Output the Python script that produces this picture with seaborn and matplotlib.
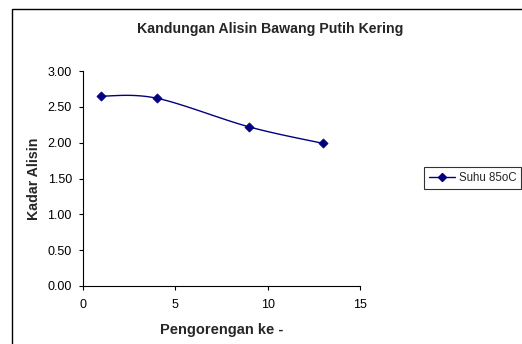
import numpy as np
import pandas as pd
import matplotlib
matplotlib.use("Agg")
import matplotlib.pyplot as plt
from matplotlib.patches import Rectangle
import seaborn as sns

# Data
pengorengan = [1, 4, 9, 13]
kadar_alisin = [2.65, 2.62, 2.22, 1.99]
series_name = "Suhu 85oC"

sns.set_theme(style="white")
plt.rcParams["font.family"] = ["Liberation Sans", "DejaVu Sans"]

NAVY = "#000080"


def smooth_curve(x, y, n=40):
    """Bezier smoothing through every point (spreadsheet-style smoothed line)."""
    x = np.asarray(x, float)
    y = np.asarray(y, float)
    px, py = [], []
    for i in range(len(x) - 1):
        x0, y0 = (x[i - 1], y[i - 1]) if i > 0 else (x[i], y[i])
        x3, y3 = (x[i + 2], y[i + 2]) if i + 2 < len(x) else (x[i + 1], y[i + 1])
        c1x = x[i] + (x[i + 1] - x0) / 6
        c1y = y[i] + (y[i + 1] - y0) / 6
        c2x = x[i + 1] - (x3 - x[i]) / 6
        c2y = y[i + 1] - (y3 - y[i]) / 6
        t = np.linspace(0, 1, n)
        bx = ((1 - t) ** 3 * x[i] + 3 * (1 - t) ** 2 * t * c1x
              + 3 * (1 - t) * t ** 2 * c2x + t ** 3 * x[i + 1])
        by = ((1 - t) ** 3 * y[i] + 3 * (1 - t) ** 2 * t * c1y
              + 3 * (1 - t) * t ** 2 * c2y + t ** 3 * y[i + 1])
        px.extend(bx)
        py.extend(by)
    return np.array(px), np.array(py)


fig = plt.figure(figsize=(5.22, 3.44), dpi=100)
fig.patch.set_facecolor("white")
ax = fig.add_axes([83 / 522, 58 / 344, 277 / 522, 215 / 344])

sx, sy = smooth_curve(pengorengan, kadar_alisin)
curve = pd.DataFrame({"x": sx, "y": sy})
points = pd.DataFrame({"x": pengorengan, "y": kadar_alisin})

sns.lineplot(data=curve, x="x", y="y", ax=ax, color=NAVY, linewidth=1.0,
             sort=False, estimator=None)
sns.scatterplot(data=points, x="x", y="y", ax=ax, color=NAVY, marker="D",
                s=22, edgecolor=NAVY, linewidth=0.5, zorder=3)

ax.set_xlim(0, 15)
ax.set_ylim(0, 3.0)
ax.set_xticks([0, 5, 10, 15])
ax.set_yticks(np.arange(0, 3.01, 0.5))
ax.set_yticklabels([f"{v:.2f}" for v in np.arange(0, 3.01, 0.5)])
ax.tick_params(axis="both", labelsize=9, colors="black", direction="out",
               length=3, width=0.8, pad=5, bottom=True, left=True)
ax.tick_params(axis="x", pad=6)
for side in ["top", "right"]:
    ax.spines[side].set_visible(False)
for side in ["left", "bottom"]:
    ax.spines[side].set_color("black")
    ax.spines[side].set_linewidth(0.8)

ax.set_xlabel("Pengorengan ke -", fontsize=10.5, fontweight="bold", labelpad=9)
ax.set_ylabel("Kadar Alisin", fontsize=10.2, fontweight="bold", labelpad=5)
fig.text(270 / 522, 1 - 29 / 344, "Kandungan Alisin Bawang Putih Kering",
         ha="center", va="center", fontsize=10.2, fontweight="bold")

# Legend entry
handle = plt.Line2D([], [], color=NAVY, marker="D", markersize=4.5, linewidth=1.0)
leg = fig.legend([handle], [series_name], loc="center left",
                 bbox_to_anchor=(424 / 522, 1 - 178 / 344), fontsize=8.3,
                 frameon=True, fancybox=False, handlelength=2.3,
                 borderpad=0.4, handletextpad=0.3, borderaxespad=0)
leg.get_frame().set_edgecolor("black")
leg.get_frame().set_linewidth(0.8)

# Outer chart-area border
fig.patches.append(Rectangle((12 / 522, -0.1), 0.99, 1.1 - 9 / 344,
                             transform=fig.transFigure, fill=False,
                             edgecolor="black", linewidth=1.0))

fig.savefig("out.png", dpi=100)
